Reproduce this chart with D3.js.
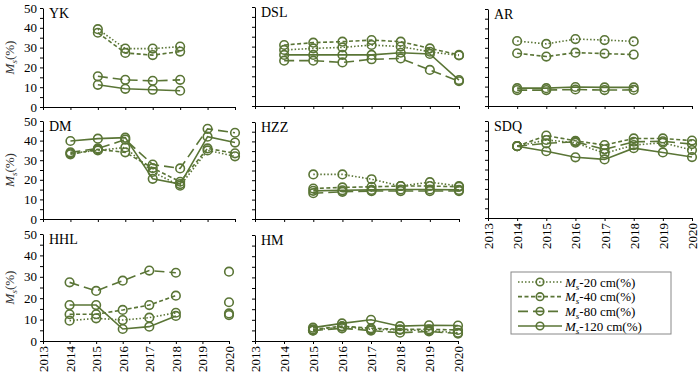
<!DOCTYPE html>
<html><head><meta charset="utf-8">
<script src="https://cdn.jsdelivr.net/npm/d3@7"></script>
<style>
body{margin:0;background:#fff;}
text{font-family:"Liberation Serif","Times New Roman",serif;fill:#000;}
</style></head>
<body><svg id="c" width="700" height="379"></svg>
<script>
const years = [2014, 2015, 2016, 2017, 2018, 2019, 2020];
const xTicks = [2013, 2014, 2015, 2016, 2017, 2018, 2019, 2020];
const yTicks = [0, 5, 10, 15, 20, 25, 30, 35, 40, 45, 50];
const seriesNames = ["-20 cm(%)", "-40 cm(%)", "-80 cm(%)", "-120 cm(%)"];

const YK_20  = [null, 39.3, 29.5, 29.5, 30.5, null, null];
const YK_40  = [null, 37.5, 27.3, 26.2, 28.0, null, null];
const YK_80  = [null, 15.5, 13.7, 13.2, 13.7, null, null];
const YK_120 = [null, 11.2, 9.2, 8.7, 8.2, null, null];

const DSL_20  = [28.3, 29.1, 29.6, 30.8, 30.0, 27.4, 25.5];
const DSL_40  = [30.8, 32.0, 32.5, 33.3, 32.5, 29.1, 25.8];
const DSL_80  = [22.9, 22.9, 22.0, 23.6, 24.0, 18.2, 12.5];
const DSL_120 = [25.8, 25.8, 25.8, 25.8, 26.9, 26.3, 13.1];

const AR_20  = [33.5, 32.0, 34.5, 34.0, 33.3, null, null];
const AR_40  = [27.2, 25.5, 27.5, 27.0, 26.5, null, null];
const AR_80  = [8.2, 8.2, 8.5, 8.2, 8.3, null, null];
const AR_120 = [9.2, 9.2, 9.8, 9.6, 9.6, null, null];

const DM_20  = [33.5, 35.0, 36.5, 24.0, 17.0, 35.0, 32.0];
const DM_40  = [33.0, 35.5, 34.0, 26.0, 19.0, 36.0, 33.5];
const DM_80  = [34.0, 36.0, 40.5, 27.8, 25.8, 46.0, 44.0];
const DM_120 = [39.8, 41.0, 41.5, 20.5, 17.8, 42.0, 39.0];

const HZZ_20  = [null, 23.0, 23.0, 20.5, 17.0, 19.0, 17.0];
const HZZ_40  = [null, 15.7, 16.3, 16.6, 17.0, 17.0, 16.6];
const HZZ_80  = [null, 13.3, 14.0, 14.4, 14.4, 14.4, 14.4];
const HZZ_120 = [null, 14.5, 14.8, 15.0, 15.2, 15.2, 15.0];

const SDQ_20  = [37.0, 40.2, 38.8, 33.3, 37.6, 38.8, 35.0];
const SDQ_40  = [37.0, 42.5, 39.8, 37.6, 41.0, 41.0, 39.9];
const SDQ_80  = [37.0, 38.5, 39.3, 35.4, 39.3, 39.5, 38.1];
const SDQ_120 = [37.0, 34.4, 31.3, 30.2, 36.0, 33.8, 31.4];

const HHL_20  = [9.5, 10.6, 9.8, 10.9, 13.2, null, 12.9];
const HHL_40  = [12.5, 12.5, 14.5, 16.8, 21.2, null, 18.1];
const HHL_80  = [27.4, 23.4, 28.2, 32.9, 31.9, null, 32.4];
const HHL_120 = [16.8, 16.8, 5.6, 6.7, 11.7, null, 12.1];

const HM_20  = [null, 5.0, 6.8, 5.5, 5.2, 4.9, 3.9];
const HM_40  = [null, 5.5, 7.0, 6.0, 5.5, 5.5, 5.2];
const HM_80  = [null, 4.9, 6.0, 4.9, 3.9, 4.5, 3.5];
const HM_120 = [null, 6.3, 8.3, 10.0, 7.0, 7.4, 7.3];

const color = "#5a7536";
const dashes = ["1.5,2", "4,2.5", "10,5", null];

const panels = [
  {name:"YK",  s:[YK_20,YK_40,YK_80,YK_120],     x:[43,235],  y:[8,107],   yl:true,  xl:false},
  {name:"DSL", s:[DSL_20,DSL_40,DSL_80,DSL_120], x:[255,459], y:[7,106],   yl:false, xl:false},
  {name:"AR",  s:[AR_20,AR_40,AR_80,AR_120],     x:[488,692], y:[9,106],   yl:false, xl:false},
  {name:"DM",  s:[DM_20,DM_40,DM_80,DM_120],     x:[43,235],  y:[121,219], yl:true,  xl:false},
  {name:"HZZ", s:[HZZ_20,HZZ_40,HZZ_80,HZZ_120], x:[255,459], y:[122,219], yl:false, xl:false},
  {name:"SDQ", s:[SDQ_20,SDQ_40,SDQ_80,SDQ_120], x:[488,692], y:[121,218], yl:false, xl:true},
  {name:"HHL", s:[HHL_20,HHL_40,HHL_80,HHL_120], x:[43,229],  y:[234,341], yl:true,  xl:true},
  {name:"HM",  s:[HM_20,HM_40,HM_80,HM_120],     x:[255,458], y:[235,341], yl:false, xl:true}
];

const svg = d3.select("#c");

panels.forEach(p => {
  const x = d3.scaleLinear().domain([2013, 2020]).range(p.x);
  const y = d3.scaleLinear().domain([0, 50]).range([p.y[1], p.y[0]]);
  const g = svg.append("g");

  const ya = d3.axisLeft(y).tickValues(yTicks).tickSize(3).tickSizeOuter(0)
    .tickFormat(d => (p.yl && d % 10 === 0) ? d : "");
  const gy = g.append("g").attr("transform", `translate(${p.x[0]},0)`).call(ya);
  gy.selectAll("text").style("font-size", "13px").attr("x", -6);

  const xa = d3.axisBottom(x).tickValues(xTicks).tickSize(3).tickSizeOuter(0)
    .tickFormat(d => p.xl ? d : "");
  const gx = g.append("g").attr("transform", `translate(0,${p.y[1]})`).call(xa);
  gx.selectAll("text").style("font-size", "13px")
    .attr("transform", "rotate(-90)").attr("text-anchor", "end")
    .attr("x", -5).attr("y", 0).attr("dy", "0.35em");
  g.selectAll(".domain, .tick line").attr("stroke", "#000").attr("stroke-width", 1);

  g.append("text").attr("x", p.x[0] + 6).attr("y", p.y[0] + 10)
    .style("font-size", "14px").text(p.name);

  if (p.yl) {
    const cy = (p.y[0] + p.y[1]) / 2;
    const t = g.append("text").attr("transform", `translate(14,${cy}) rotate(-90)`)
      .attr("text-anchor", "middle").style("font-size", "13px").style("fill", "#333");
    t.append("tspan").style("font-style", "italic").text("M");
    t.append("tspan").style("font-style", "italic").style("font-size", "9px").attr("dy", 3).text("s");
    t.append("tspan").attr("dy", -3).text("(%)");
  }

  p.s.forEach((vals, i) => {
    const pts = years.map((yr, j) => ({yr, v: vals[j]}));
    const line = d3.line().defined(d => d.v != null).x(d => x(d.yr)).y(d => y(d.v));
    g.append("path").datum(pts).attr("d", line).attr("fill", "none")
      .attr("stroke", color).attr("stroke-width", 1.6)
      .attr("stroke-dasharray", dashes[i]);
    g.selectAll(null).data(pts.filter(d => d.v != null)).enter().append("circle")
      .attr("cx", d => x(d.yr)).attr("cy", d => y(d.v)).attr("r", 4.3)
      .attr("fill", "none").attr("stroke", color).attr("stroke-width", 1.6);
  });
});

// legend
const lg = svg.append("g");
lg.append("rect").attr("x", 511).attr("y", 272).attr("width", 160).attr("height", 62)
  .attr("fill", "#fff").attr("stroke", "#888").attr("stroke-width", 1);
const ly = d3.scalePoint().domain(d3.range(4)).range([282, 326]);
seriesNames.forEach((nm, i) => {
  const yy = ly(i);
  lg.append("line").attr("x1", 518).attr("x2", 562).attr("y1", yy).attr("y2", yy)
    .attr("stroke", color).attr("stroke-width", 1.6).attr("stroke-dasharray", dashes[i]);
  lg.append("circle").attr("cx", 540).attr("cy", yy).attr("r", 3.8)
    .attr("fill", "none").attr("stroke", color).attr("stroke-width", 1.6);
  const t = lg.append("text").attr("x", 565).attr("y", yy + 4.5).style("font-size", "13px");
  t.append("tspan").style("font-style", "italic").text("M");
  t.append("tspan").style("font-style", "italic").style("font-size", "9px").attr("dy", 3).text("s");
  t.append("tspan").attr("dy", -3).text(nm);
});
</script></body></html>
